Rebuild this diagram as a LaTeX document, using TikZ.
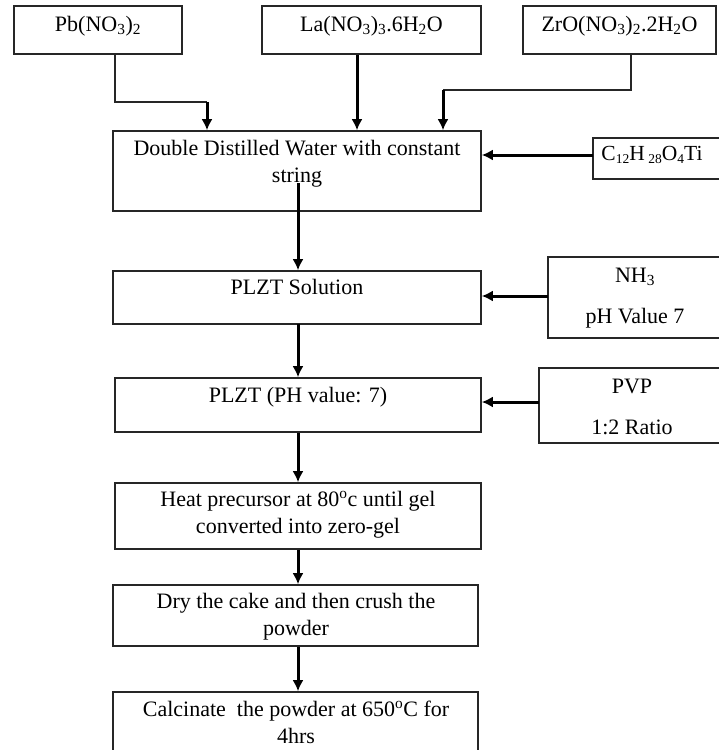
\documentclass[tikz,border=0pt]{standalone}
\usepackage{fontspec}
\setmainfont{Liberation Serif}
\usetikzlibrary{arrows.meta}
\newcommand{\smallsub}[1]{\raisebox{-0.35ex}{\fontsize{13.5}{13.5}\selectfont #1}}
\begin{document}
\begin{tikzpicture}[x=1pt,y=-1pt,
  box/.style={draw=black!85, line width=1.6pt, inner sep=0pt, rectangle},
  txt/.style={inner sep=0pt, anchor=base, align=center, font=\fontsize{22}{27}\selectfont},
  conn/.style={line width=1.6pt, draw=black!85},
  arr/.style={line width=3pt, draw=black, -{Latex[length=11pt,width=11pt]}},
]
\useasboundingbox (0,0) rectangle (718,750);

% boxes
\node[box, minimum width=168pt, minimum height=48pt] (pb) at (98,30) {};
\node[box, minimum width=219pt, minimum height=48pt] (la) at (371.5,30) {};
\node[box, minimum width=193pt, minimum height=48pt] (zr) at (619.5,30) {};
\node[box, minimum width=368pt, minimum height=80pt] (dbl) at (297,171) {};
\node[box, minimum width=129pt, minimum height=41pt] (c12) at (657.5,158.5) {};
\node[box, minimum width=368pt, minimum height=53pt] (sol) at (297,297.5) {};
\node[box, minimum width=174pt, minimum height=81pt] (nh) at (635,297.5) {};
\node[box, minimum width=366pt, minimum height=54pt] (ph) at (298,405) {};
\node[box, minimum width=183pt, minimum height=75pt] (pvp) at (630.5,405.5) {};
\node[box, minimum width=366pt, minimum height=66pt] (heat) at (298,516) {};
\node[box, minimum width=365pt, minimum height=61pt] (dry) at (295.5,615.5) {};
\node[box, minimum width=365pt, minimum height=70pt] (calc) at (295.5,727) {};

% texts (base anchor = baseline of the last line)
\node[txt] (pbt) at (98,31) {Pb(NO\textsubscript{3})\textsubscript{2}};
\node[txt] (lat) at (371.5,31) {La(NO\textsubscript{3})\textsubscript{3}.6H\textsubscript{2}O};
\node[txt] (zrt) at (619.5,31) {ZrO(NO\textsubscript{3})\textsubscript{2}.2H\textsubscript{2}O};
\node[txt] (dblt) at (297,182) {Double Distilled Water with constant\\string};
\node[txt, font=\fontsize{21.5}{25}\selectfont] (c12t) at (652,160) {C\smallsub{12}H\,\smallsub{28}O\smallsub{4}Ti};
\node[txt] (solt) at (297,294) {PLZT Solution};
\node[txt] (nht) at (635,323) {NH\textsubscript{3}\\[14pt]pH Value 7};
\node[txt] (pht) at (298,402) {PLZT (PH value: 7)};
\node[txt] (pvpt) at (632,434) {PVP\\[14pt]1:2 Ratio};
\node[txt] (heatt) at (298,533) {Heat precursor at 80\textsuperscript{o}c until gel\\converted into zero-gel};
\node[txt] (dryt) at (296,635) {Dry the cake and then crush the\\powder};
\node[txt] (calct) at (296,743) {Calcinate\ \ the powder at 650\textsuperscript{o}C for\\4hrs};

% connectors
\coordinate (pbb) at ([xshift=17pt]pb.south);
\coordinate (pbk) at (207,102);
\draw[conn] (pbb) |- (pbk);
\draw[arr] (pbk) -- (pbk |- dbl.north);

\coordinate (lab) at ([xshift=-14.5pt]la.south);
\draw[arr] (lab) -- (lab |- dbl.north);

\coordinate (zrb) at ([xshift=11.5pt]zr.south);
\coordinate (zrk) at (443,90);
\draw[conn] (zrb) |- (zrk);
\draw[arr] (zrk) -- (zrk |- dbl.north);

\coordinate (c12a) at (593,155);
\draw[arr] (c12a) -- (c12a -| dbl.east);

\coordinate (dblc) at (298,183);
\draw[arr] (dblc) -- (dblc |- sol.north);

\coordinate (nha) at (548,296);
\draw[arr] (nha) -- (nha -| sol.east);

\coordinate (solb) at (298,324);
\draw[arr] (solb) -- (solb |- ph.north);

\coordinate (pvpa) at (539,402);
\draw[arr] (pvpa) -- (pvpa -| ph.east);

\draw[arr] (ph.south) -- (ph.south |- heat.north);
\draw[arr] (heat.south) -- (heat.south |- dry.north);
\draw[arr] (heat.south |- dry.south) -- (heat.south |- calc.north);
\end{tikzpicture}
\end{document}
